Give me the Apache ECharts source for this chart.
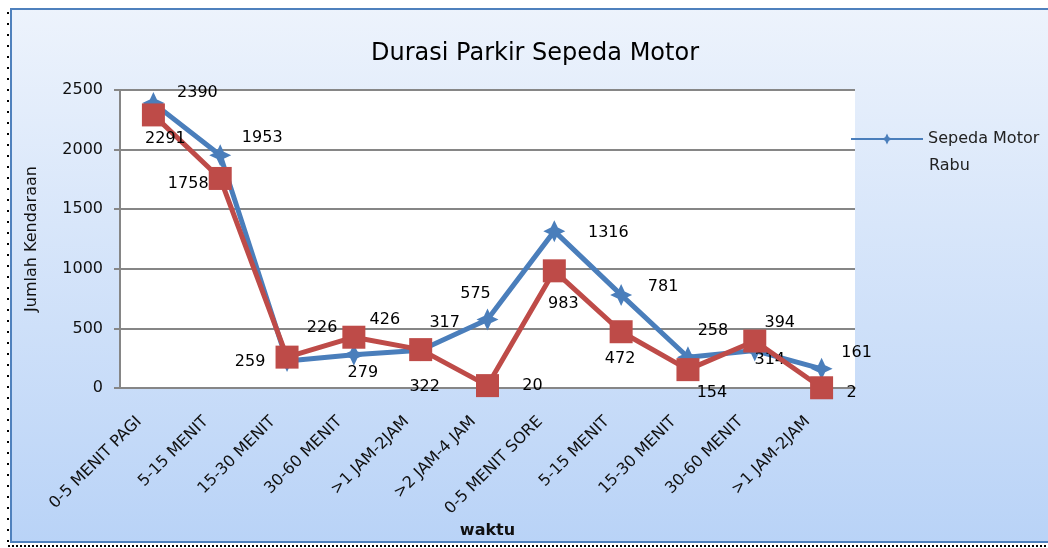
<!DOCTYPE html>
<html>
<head>
<meta charset="utf-8">
<script src="https://cdn.jsdelivr.net/npm/echarts@6/dist/echarts.min.js"></script>
<style>
  html, body { margin: 0; padding: 0; background: #fff; }
  #myChart { width: 1048px; height: 548px; }
</style>
</head>
<body>
<div id="myChart"></div>
<script>
// kategori waktu
const categories = ['0-5 MENIT PAGI', '5-15 MENIT', '15-30 MENIT', '30-60 MENIT', '>1 JAM-2JAM', '>2 JAM-4 JAM',
  '0-5 MENIT SORE', '5-15 MENIT', '15-30 MENIT', '30-60 MENIT', '>1 JAM-2JAM'];
// nilai seri
const rabu = [2390, 1953, 226, 279, 317, 575, 1316, 781, 258, 314, 161];
const seriKedua = [2291, 1758, 259, 426, 322, 20, 983, 472, 154, 394, 2];
const yTicks = [0, 500, 1000, 1500, 2000, 2500];

// posisi label (geser dari titik)
const rabuLabelShift = [[44, -10], [42, -17], [35, -33], [9, 18], [24, -27], [-12, -26], [54, 2], [42, -8], [25, -26], [15, 9], [35, -16]];
const keduaLabelShift = [[12, 24], [-32, 5], [-37, 5], [31, -17], [4, 37], [45, 0], [9, 33], [-1, 27], [24, 23], [25, -18], [30, 5]];

const font = "'DejaVu Sans', sans-serif";
const starPath = 'path://M0,-10 L3.2,-3.2 L10,0 L3.2,3.2 L0,10 L-3.2,3.2 L-10,0 L-3.2,-3.2 Z';

let myChart = echarts.init(document.getElementById('myChart'));
myChart.setOption({
  backgroundColor: '#ffffff',
  animation: false,
  graphic: [
    {
      type: 'rect', z: -10, silent: true,
      shape: { x: 11, y: 9, width: 1060, height: 533 },
      style: {
        fill: new echarts.graphic.LinearGradient(0, 0, 0, 1, [
          { offset: 0, color: '#edf3fc' },
          { offset: 1, color: '#b9d3f7' }
        ]),
        stroke: '#4f81bd', lineWidth: 2
      }
    },
    {
      type: 'line', z: -5, silent: true,
      shape: { x1: 8, y1: 12, x2: 8, y2: 546 },
      style: { stroke: '#000', lineWidth: 2, lineDash: [2, 9] }
    },
    {
      type: 'line', z: -5, silent: true,
      shape: { x1: 8, y1: 546, x2: 1048, y2: 546 },
      style: { stroke: '#000', lineWidth: 2, lineDash: [2, 2] }
    },
    {
      // baris kedua nama legenda
      type: 'text', silent: true,
      style: { x: 929, y: 166, text: 'Rabu', font: "16px 'DejaVu Sans', sans-serif", fill: '#222', verticalAlign: 'middle' }
    }
  ],
  title: {
    text: 'Durasi Parkir Sepeda Motor',
    left: 530, top: 37, textAlign: 'center',
    textStyle: { fontFamily: font, fontSize: 24, fontWeight: 'normal', color: '#000' }
  },
  legend: {
    data: ['Sepeda Motor Rabu'],
    left: 845, top: 126,
    itemWidth: 72, itemHeight: 14,
    formatter: () => 'Sepeda Motor',
    textStyle: { fontFamily: font, fontSize: 16, color: '#222' }
  },
  grid: {
    left: 120, right: 193, top: 90, bottom: 160,
    show: true, backgroundColor: '#ffffff', borderWidth: 0
  },
  xAxis: {
    type: 'category',
    data: categories,
    name: 'waktu',
    nameLocation: 'middle',
    nameGap: 135,
    nameMoveOverlap: false,
    nameTextStyle: { fontFamily: font, fontSize: 16, fontWeight: 'bold', color: '#111' },
    axisLine: { lineStyle: { color: '#868686', width: 2 } },
    axisTick: { show: false },
    axisLabel: { rotate: 45, margin: 17, padding: [0, 20, 0, 0], fontFamily: font, fontSize: 16, color: '#111', interval: 0 },
    splitLine: { show: false }
  },
  yAxis: {
    type: 'value',
    min: yTicks[0], max: yTicks[yTicks.length - 1], interval: 500,
    name: 'Jumlah Kendaraan',
    nameLocation: 'middle',
    nameGap: 80,
    nameTextStyle: { fontFamily: font, fontSize: 16, color: '#111' },
    axisLine: { show: true, lineStyle: { color: '#868686', width: 2 } },
    axisTick: { show: true, inside: false, length: 6, lineStyle: { color: '#868686', width: 2 } },
    axisLabel: { margin: 17, fontFamily: font, fontSize: 16, color: '#111', formatter: v => String(v) },
    splitLine: { lineStyle: { color: '#868686', width: 2 } }
  },
  series: [
    {
      name: 'Sepeda Motor Rabu',
      type: 'line',
      data: rabu.map((v, i) => ({ value: v, label: { offset: rabuLabelShift[i] } })),
      color: '#4a7ebb',
      lineStyle: { width: 5, color: '#4a7ebb' },
      symbol: starPath,
      symbolSize: 22,
      itemStyle: { color: '#4a7ebb' },
      label: { show: true, position: 'inside', fontFamily: font, fontSize: 16, color: '#000' },
      z: 2
    },
    {
      name: 'Sepeda Motor Kedua',
      type: 'line',
      data: seriKedua.map((v, i) => ({ value: v, label: { offset: keduaLabelShift[i] } })),
      color: '#be4b48',
      lineStyle: { width: 5, color: '#be4b48' },
      symbol: 'rect',
      symbolSize: 23,
      itemStyle: { color: '#be4b48' },
      label: { show: true, position: 'inside', fontFamily: font, fontSize: 16, color: '#000' },
      z: 3
    }
  ]
});
</script>
</body>
</html>
